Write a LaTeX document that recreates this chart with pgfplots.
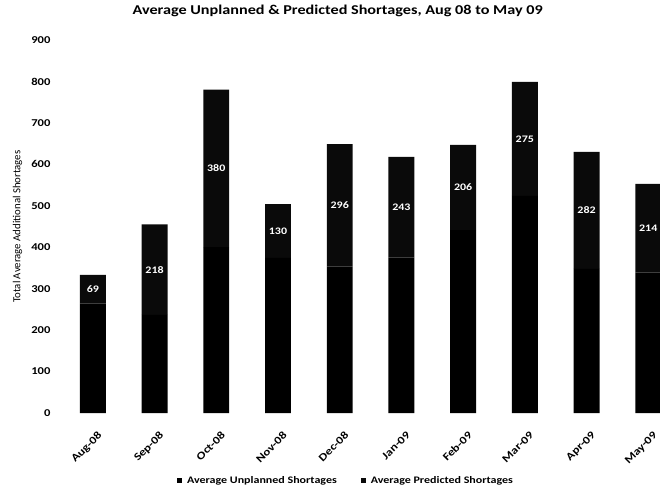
\documentclass[border=0pt]{standalone}
\usepackage{fontspec}
\setmainfont{Carlito}[FakeStretch=1.2]
\newfontfamily\plainfont{Carlito}
\usepackage{pgfplots}
\pgfplotsset{compat=1.18}
\begin{document}
\begin{tikzpicture}
\path[use as bounding box] (-62pt,-76pt) rectangle (598pt,413pt);
\pgfplotsset{base/.style={
  width=598pt, height=373pt, scale only axis, at={(0,0)}, anchor=south west,
  xmin=-0.5, xmax=9.19, ymin=0, ymax=900,
  axis line style={draw=none}, tick style={draw=none},
}}
\begin{axis}[base, ybar stacked, bar width=0.42,
  ytick={0,100,...,900},
  xtick={0,...,9},
  xticklabels={Aug-08,Sep-08,Oct-08,Nov-08,Dec-08,Jan-09,Feb-09,Mar-09,Apr-09,May-09},
  x tick label style={rotate=45, anchor=north east, font=\bfseries\fontsize{10.8}{11}\selectfont, xshift=-6pt, yshift=-12pt},
  y tick label style={font=\bfseries\fontsize{10.5}{11}\selectfont, xshift=-8pt},
  /pgf/number format/assume math mode=true,
  ylabel={Total Average Additional Shortages},
  ylabel style={at={(axis description cs:-0.0745,0.5)}, anchor=center, font=\plainfont\fontsize{10.8}{12}\selectfont},
  title={Average Unplanned \& Predicted Shortages, Aug 08 to May 09},
  title style={at={(axis description cs:0.461,1)}, anchor=base, yshift=19pt, font=\bfseries\fontsize{13.5}{15}\selectfont},
  legend style={at={(axis description cs:0.475,-0.182)}, anchor=center, draw=none, legend columns=2,
    /tikz/every even column/.append style={column sep=22pt}, font=\bfseries\fontsize{10}{11}\selectfont},
  legend image code/.code={\fill[#1] (0pt,-2.5pt) rectangle (5pt,2.5pt); \path (8pt,0pt);},
]
\addplot[fill=black, draw=none] coordinates {(0,264) (1,237) (2,400) (3,374) (4,353) (5,375) (6,441) (7,524) (8,348) (9,339)};
\addplot[fill=black!96, draw=none] coordinates {(0,69) (1,218) (2,380) (3,130) (4,296) (5,243) (6,206) (7,275) (8,282) (9,214)};
\legend{Average Unplanned Shortages, Average Predicted Shortages}
\end{axis}
\begin{axis}[base, hide axis]
\addplot[draw=none, mark=none, nodes near coords, point meta=explicit symbolic,
  nodes near coords style={white, anchor=center, font=\bfseries\fontsize{10}{11}\selectfont}]
  coordinates {(0,298.5)[69] (1,346)[218] (2,590)[380] (3,439)[130] (4,501)[296] (5,496.5)[243] (6,544)[206] (7,661.5)[275] (8,489)[282] (9,446)[214]};
\end{axis}
\end{tikzpicture}
\end{document}
